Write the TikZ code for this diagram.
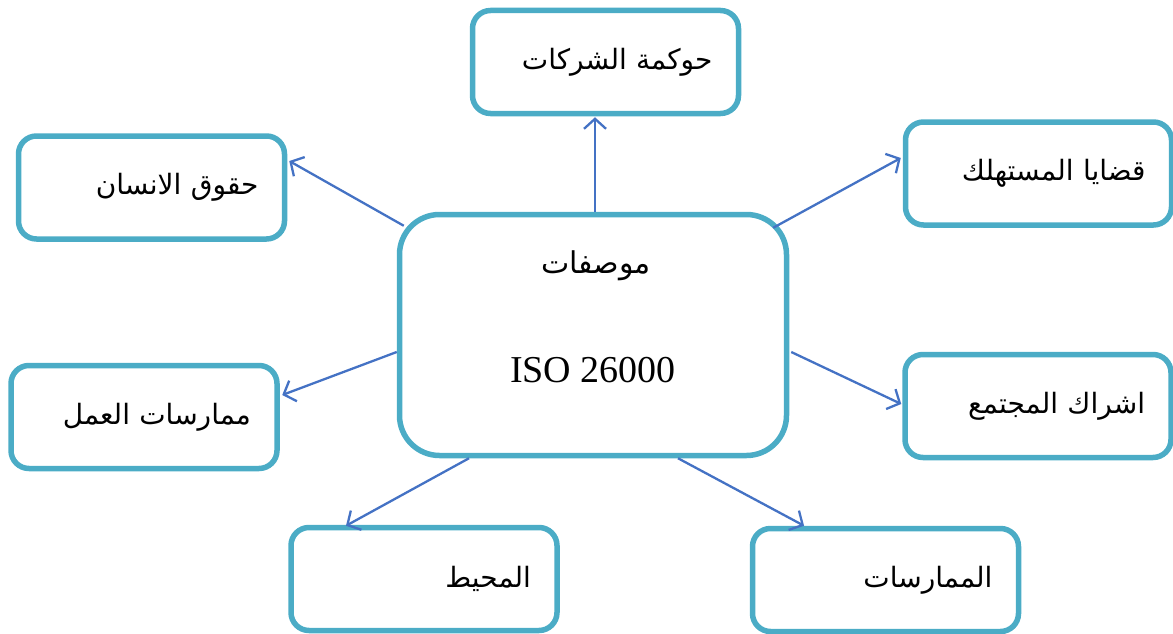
\documentclass[tikz,border=0pt]{standalone}
\usepackage{fontspec}
\setmainfont{Liberation Serif}
\newfontfamily\arabicfont[Script=Arabic]{DejaVu Sans}
\TeXXeTstate=1
\usetikzlibrary{arrows.meta,calc}
\definecolor{boxc}{HTML}{4BACC6}
\definecolor{arrc}{HTML}{4472C4}
\newcommand{\ar}[1]{\arabicfont\beginR #1\endR}
\begin{document}
\begin{tikzpicture}[x=1pt,y=-1pt,
  topic/.style={draw=boxc, line width=5.5pt, rounded corners=18pt,
    minimum width=266pt, minimum height=103pt, text width=214pt,
    align=right, inner sep=0pt, font=\arabicfont\fontsize{28}{32}\selectfont},
  hub/.style={draw=boxc, line width=5.5pt, rounded corners=40pt,
    minimum width=387pt, minimum height=241pt, inner sep=0pt},
  link/.style={draw=arrc, line width=2.3pt, -{Straight Barb[length=10pt,width=22pt,line width=2.3pt]}}]
\useasboundingbox (0,0) rectangle (1173,634);
\node[hub] (c) at (593,335) {};
\node[font=\arabicfont\fontsize{30}{34}\selectfont] (ct) at (596,266) {\ar{موصفات}};
\node[font=\fontsize{38}{44}\selectfont] (ci) at (593,370) {ISO 26000};
\node[topic] (t) at (605.5,62) {\ar{حوكمة الشركات}};
\node[topic] (q) at (1038.5,173.5) {\ar{قضايا المستهلك}};
\node[topic] (h) at (151.5,187.5) {\ar{حقوق الانسان}};
\node[topic] (l) at (144,417) {\ar{ممارسات العمل}};
\node[topic] (m) at (1038,406) {\ar{اشراك المجتمع}};
\node[topic] (e) at (424,579) {\ar{المحيط}};
\node[topic] (p) at (885.5,580) {\ar{الممارسات}};
\draw[link] ($(c.north)+(2,0)$) -- ($(t.south)+(-10.5,1)$);
\draw[link] ($(c.north east)+(-16,16)$) -- ($(q.west)+(-2,-15.5)$);
\draw[link] ($(c.north west)+(7,14)$) -- ($(h.east)+(2,-26.5)$);
\draw[link] ($(c.west)+(0,17)$) -- ($(l.east)+(2.5,-22)$);
\draw[link] ($(c.east)+(2,17)$) -- ($(m.west)+(-1,-2)$);
\draw[link] ($(c.south)+(-124,0)$) -- ($(e.north)+(-78,1)$);
\draw[link] ($(c.south)+(85,0)$) -- ($(p.north)+(-81.5,0)$);
\end{tikzpicture}
\end{document}
